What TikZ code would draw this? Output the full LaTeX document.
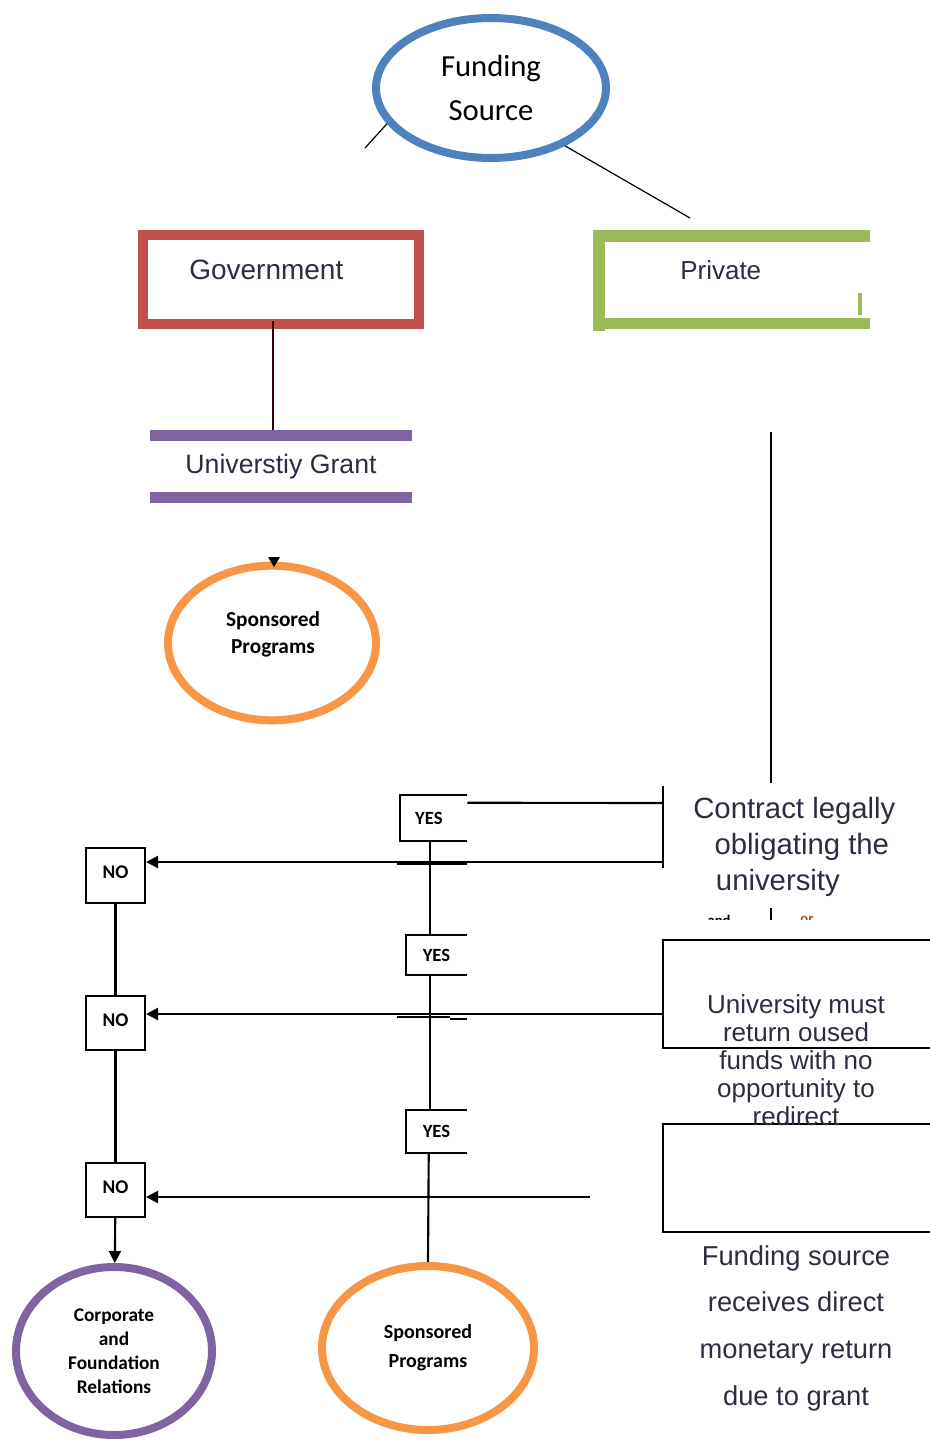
\documentclass[tikz,border=0pt]{standalone}
\usepackage{fontspec}
\setmainfont{Liberation Sans}
\newfontfamily\calfont{Carlito}
\usetikzlibrary{shapes.geometric,arrows.meta,calc}
\definecolor{fsblue}{RGB}{79,129,189}
\definecolor{govred}{RGB}{192,80,77}
\definecolor{privgreen}{RGB}{155,187,89}
\definecolor{purp}{RGB}{128,100,162}
\definecolor{orng}{RGB}{247,150,70}
\definecolor{txt}{RGB}{45,45,65}
\begin{document}
\begin{tikzpicture}[x=0.75pt,y=-0.75pt,
  ell/.style={ellipse,draw,line width=6pt,inner sep=0pt,align=center,text=black},
  conn/.style={line width=1.6pt,black},
  arr/.style={conn,-{Triangle[length=9pt,width=9pt]}},
  nobox/.style={draw,line width=1.5pt,minimum width=44.25pt,inner sep=0pt,font=\calfont\bfseries\fontsize{14.5}{16}\selectfont},
  yesbox/.style={inner sep=0pt,font=\calfont\bfseries\fontsize{14}{16}\selectfont},
  openbox/.style={line width=1.5pt},
  body/.style={text=txt,align=center,inner sep=0pt}
]
\useasboundingbox (0,0) rectangle (929,1441);

% Funding source
\node[ell,draw=fsblue,minimum width=172.5pt,minimum height=105pt,font=\calfont\fontsize{23}{33}\selectfont] (fs) at (491,88) {Funding\\Source};
\draw[line width=0.9pt] (fs.199) -- (365,148);
\draw[line width=0.9pt] (fs.322) -- (690,218);

% Government
\node[draw=govred,line width=7.5pt,minimum width=207pt,minimum height=66.75pt,inner sep=0pt] (gov) at (281,279.5) {};
\node[anchor=west,inner sep=0pt,text=txt,font=\fontsize{21}{24}\selectfont] (govt) at (189,270) {Government};

% University grant
\node[inner sep=0pt,outer sep=0pt,minimum width=196.5pt,minimum height=54.75pt,text=txt,font=\fontsize{20}{24}\selectfont] (ug) at (281,466.5) {Universtiy Grant};
\fill[purp] (ug.north west) rectangle ($(ug.north east)+(0,11)$);
\fill[purp] ($(ug.south west)+(0,-11)$) rectangle (ug.south east);
\draw[line width=1.2pt,black!80!red] ($(gov.south)+(-8,-8)$) -- ($(ug.north)+(-8,0)$);

% Private
\fill[privgreen] (593,232) rectangle (605,331);
\fill[privgreen] (593,230) rectangle (870,242);
\fill[privgreen] (593,318) rectangle (870,329);
\fill[privgreen] (858,293) rectangle (862,315);
\node[anchor=west,inner sep=0pt,text=txt,font=\fontsize{19.5}{24}\selectfont] (privt) at (680,270) {Private};
\coordinate (pv1) at (771,432);
\coordinate (pv2) at (771,783);
\draw[conn] (pv1) -- (pv2);

% Sponsored programs (top)
\node[ell,draw=orng,minimum width=156pt,minimum height=116pt] (sp1) at (272,643) {};
\node[inner sep=0pt,align=center,font=\calfont\bfseries\fontsize{16}{20}\selectfont] (sp1t) at (273,634) {Sponsored\\Programs};
\fill (268,557) -- (280,557) -- (274,567) -- cycle;

% YES boxes
\node[yesbox,minimum width=50.25pt,minimum height=34.5pt] (y1) at (433.5,818) {\hspace*{-7pt}YES};
\node[yesbox,minimum width=45.75pt,minimum height=30pt] (y2) at (436.5,955) {YES};
\node[yesbox,minimum width=45.75pt,minimum height=32.25pt] (y3) at (436.5,1131.5) {YES};
\foreach \b in {y1,y2,y3}
  \draw[openbox] (\b.north east) -- (\b.north west) -- (\b.south west) -- (\b.south east);

% NO boxes
\node[nobox,minimum height=41.25pt] (no1) at (115.5,875.5) {\raisebox{5pt}{NO}};
\node[nobox,minimum height=40.5pt] (no2) at (115.5,1023) {\raisebox{4pt}{NO}};
\node[nobox,minimum height=40.5pt] (no3) at (115.5,1190) {\raisebox{4pt}{NO}};

% right boxes (open at right)
\node[inner sep=0pt,minimum width=204pt,minimum height=81pt] (r2) at (799,994) {};
\node[inner sep=0pt,minimum width=204pt,minimum height=81pt] (r3) at (799,1178) {};
\foreach \b in {r2,r3}
  \draw[openbox] (\b.north east) -- (\b.north west) -- (\b.south west) -- (\b.south east);

% contract bracket
\coordinate (cb1) at (663,786);
\coordinate (cb2) at (663,868);
\draw[openbox] (cb1) -- (cb2);
\coordinate (c803) at (663,803);
\draw[conn] ($(y1.north east)+(0,8)$) -- (c803);

% texts on the right
\node[anchor=west,inner sep=0pt,align=left,text=txt,font=\fontsize{22}{27}\selectfont] (ct) at (693,847) {Contract legally\\\hspace{16pt}obligating the\\\hspace{17pt}university};
\node[body,font=\fontsize{19.5}{21}\selectfont] (um) at (796,1060) {University must\\return oused\\funds with no\\opportunity to\\redirect};
\node[body,font=\fontsize{20.5}{35}\selectfont] (fsr) at (796,1328) {Funding source\\receives direct\\monetary return\\due to grant};

% clipped small words
\begin{scope}
  \clip (690,911) rectangle (840,919);
  \node[inner sep=0pt,font=\calfont\bfseries\fontsize{11}{12}\selectfont] (andt) at (719,920) {and};
  \node[inner sep=0pt,text=orng!60!black,font=\calfont\bfseries\fontsize{11}{12}\selectfont] (ort) at (807,920) {or};
\end{scope}
\draw[conn] (771,908) -- (771,920);

% arrows to NO boxes
\coordinate (a1) at (663,862);
\coordinate (a2) at (663,1014);
\coordinate (a3) at (590,1197);
\draw[arr] (a1) -- (no1.east |- a1);
\draw[arr] (a2) -- (no2.east |- a2);
\draw[arr] (a3) -- (no3.east |- a3);
\draw[line width=1.8pt] (397,864) -- (467,864);
\draw[line width=1.2pt] (397,1017) -- (450,1017);
\draw[line width=1.2pt] (450,1019) -- (467,1019);

% bottom ellipses
\node[ell,draw=purp,minimum width=147pt,minimum height=126pt,font=\calfont\bfseries\fontsize{14.5}{18}\selectfont] (corp) at (114,1351) {Corporate\\and\\Foundation\\Relations};
\node[ell,draw=orng,minimum width=159pt,minimum height=123pt,font=\calfont\bfseries\fontsize{15}{21.75}\selectfont] (sp2) at (428,1348) {Sponsored\\Programs};

% vertical chains
\draw[conn] (no1) -- (no2);
\draw[conn] (no2) -- (no3);
\draw[arr] (no3) -- (corp);
\draw[conn] ($(y1.south west)+(30,0)$) -- ($(y2.north west)+(24,0)$);
\draw[conn] ($(y2.south west)+(24,0)$) -- ($(y3.north west)+(24,0)$);
\draw[conn] ($(y3.south west)+(23,0)$) -- (sp2.north);
\end{tikzpicture}
\end{document}
